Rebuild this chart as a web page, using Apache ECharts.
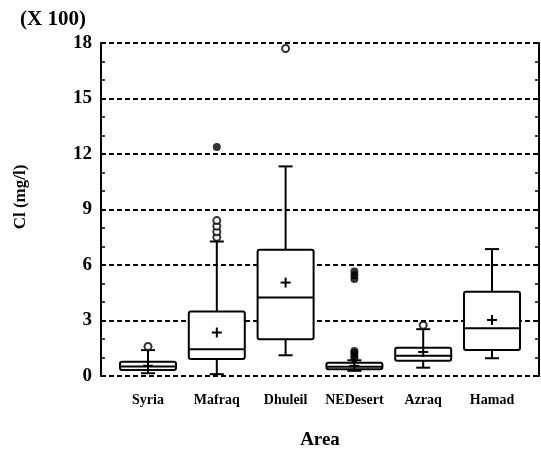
<!DOCTYPE html>
<html>
<head>
<meta charset="utf-8">
<script src="https://cdn.jsdelivr.net/npm/echarts@6/dist/echarts.min.js"></script>
<style>
  html, body { margin: 0; padding: 0; background: #fff; }
  #chart { width: 541px; height: 449px; }
</style>
</head>
<body>
<div id="chart"></div>
<script>
// 数据 (单位: x100 mg/l)
var categories = ['Syria', 'Mafraq', 'Dhuleil', 'NEDesert', 'Azraq', 'Hamad'];
var whiskerLow  = [0.15, 0.10, 1.12, 0.28, 0.45, 0.96];
var q1          = [0.32, 0.92, 1.99, 0.36, 0.83, 1.41];
var median      = [0.52, 1.45, 4.24, 0.50, 1.10, 2.58];
var q3          = [0.77, 3.48, 6.82, 0.72, 1.53, 4.56];
var whiskerHigh = [1.40, 7.27, 11.33, 0.85, 2.53, 6.86];
var means       = [0.55, 2.35, 5.05, 0.55, 1.30, 3.03];

// 离群点 [类别序号, 值]
var filledOutliers = [[1, 12.38], [3, 5.25], [3, 5.45], [3, 5.65],
                      [3, 0.95], [3, 1.10], [3, 1.25], [3, 1.35]];
var hollowOutliers = [[0, 1.60], [1, 7.50], [1, 7.80], [1, 8.10], [1, 8.40],
                      [2, 17.7], [4, 2.75]];

var yTicks = { min: 0, max: 18, interval: 3 };

var FONT = 'Liberation Serif';

var boxData = categories.map(function (c, i) {
    return [i, whiskerLow[i], q1[i], median[i], q3[i], whiskerHigh[i], means[i]];
});

function renderBox(params, api) {
    var x = api.value(0);
    var lo = api.coord([x, api.value(1)]);
    var b1 = api.coord([x, api.value(2)]);
    var md = api.coord([x, api.value(3)]);
    var b3 = api.coord([x, api.value(4)]);
    var hi = api.coord([x, api.value(5)]);
    var mn = api.coord([x, api.value(6)]);
    var cx = lo[0];
    var half = 28, cap = 7, plus = 5;
    var st = { stroke: '#000', lineWidth: 2, fill: null };
    return {
        type: 'group',
        children: [
            { type: 'line', shape: { x1: cx, y1: b3[1], x2: cx, y2: hi[1] }, style: st },
            { type: 'line', shape: { x1: cx, y1: b1[1], x2: cx, y2: lo[1] }, style: st },
            { type: 'line', shape: { x1: cx - cap, y1: hi[1], x2: cx + cap, y2: hi[1] }, style: st },
            { type: 'line', shape: { x1: cx - cap, y1: lo[1], x2: cx + cap, y2: lo[1] }, style: st },
            { type: 'rect', shape: { x: cx - half, y: b3[1], width: half * 2, height: b1[1] - b3[1], r: 2 },
              style: { stroke: '#000', lineWidth: 2, fill: '#fff' } },
            { type: 'line', shape: { x1: cx - half, y1: md[1], x2: cx + half, y2: md[1] }, style: st },
            { type: 'line', shape: { x1: cx - plus, y1: mn[1], x2: cx + plus, y2: mn[1] }, style: st },
            { type: 'line', shape: { x1: cx, y1: mn[1] - plus, x2: cx, y2: mn[1] + plus }, style: st }
        ]
    };
}

var chart = echarts.init(document.getElementById('chart'));

var yBase = {
    type: 'value',
    gridIndex: 0,
    min: yTicks.min,
    max: yTicks.max,
    interval: yTicks.interval,
    axisLine: { show: true, lineStyle: { color: '#000', width: 2 } },
    axisTick: { show: true, inside: true, length: 5, lineStyle: { color: '#000', width: 2 } },
    minorTick: { show: true, splitNumber: 3, length: 4, lineStyle: { color: '#000', width: 1.5 } },
    minorSplitLine: { show: false }
};

var option = {
    animation: false,
    backgroundColor: '#fff',
    grid: [
        { left: 101, right: 2, top: 43, bottom: 73, containLabel: false, outerBoundsMode: 'none' },
        { left: 113.6, right: 14.6, top: 43, bottom: 73, containLabel: false, outerBoundsMode: 'none' }
    ],
    graphic: [
        { type: 'text', left: 20, top: 9,
          style: { text: '(X 100)', font: 'bold 21px "' + FONT + '"', fill: '#000' } },
        { type: 'text', x: 21, y: 197, rotation: Math.PI / 2,
          style: { text: 'Cl (mg/l)', font: 'bold 17px "' + FONT + '"', fill: '#000',
                   align: 'center', verticalAlign: 'middle' } }
    ],
    xAxis: [
        { type: 'value', gridIndex: 0, min: 0, max: 1, show: false },
        {
            type: 'category', gridIndex: 1, data: categories,
            axisLine: { show: false }, axisTick: { show: false },
            axisLabel: { interval: 0, margin: 17, color: '#000',
                         fontFamily: FONT, fontWeight: 'bold', fontSize: 14 },
            name: 'Area', nameLocation: 'middle', nameGap: 55,
            nameTextStyle: { color: '#000', fontFamily: FONT, fontWeight: 'bold', fontSize: 19 }
        }
    ],
    yAxis: [
        Object.assign({}, yBase, {
            position: 'left',
            axisLabel: { color: '#000', fontFamily: FONT, fontWeight: 'bold', fontSize: 19, margin: 9 },
            splitLine: { show: true, lineStyle: { color: '#000', width: 2, type: [5, 3] } }
        }),
        Object.assign({}, yBase, {
            position: 'right',
            axisLabel: { show: false },
            splitLine: { show: false }
        }),
        { type: 'value', gridIndex: 1, min: yTicks.min, max: yTicks.max, show: false }
    ],
    series: [
        {
            type: 'custom',
            xAxisIndex: 1, yAxisIndex: 2,
            renderItem: renderBox,
            encode: { x: 0, y: [1, 2, 3, 4, 5, 6] },
            data: boxData,
            z: 3
        },
        {
            type: 'scatter',
            xAxisIndex: 1, yAxisIndex: 2,
            symbol: 'circle', symbolSize: 8,
            itemStyle: { color: '#000' },
            data: filledOutliers,
            z: 4
        },
        {
            type: 'scatter',
            xAxisIndex: 1, yAxisIndex: 2,
            symbol: 'circle', symbolSize: 7,
            itemStyle: { color: '#fff', borderColor: '#000', borderWidth: 2 },
            data: hollowOutliers,
            z: 4
        }
    ]
};

chart.setOption(option);
</script>
</body>
</html>
